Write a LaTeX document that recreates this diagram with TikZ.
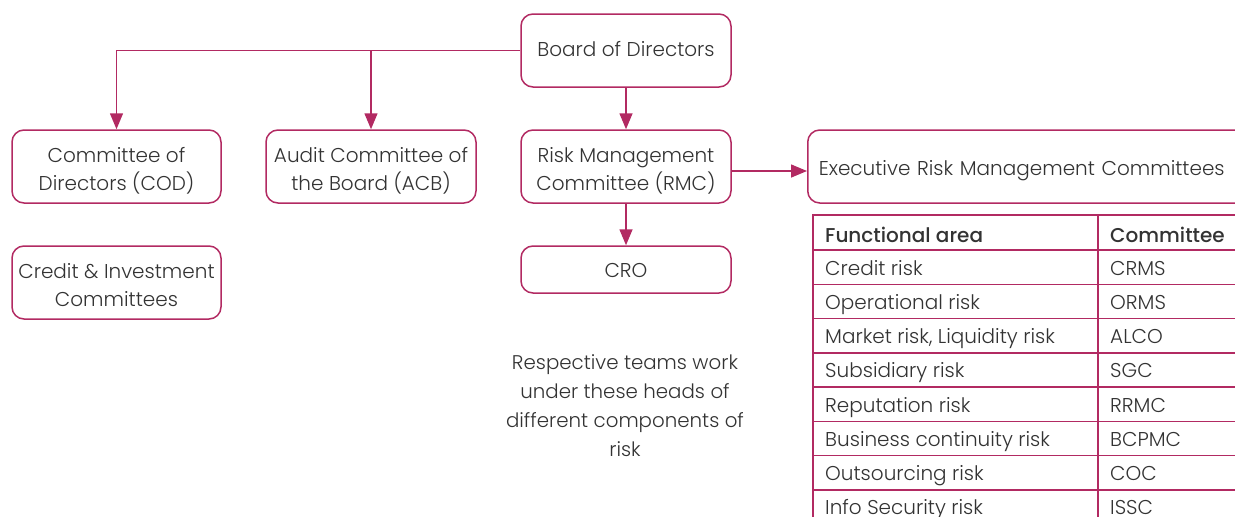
\documentclass[tikz,border=0pt]{standalone}
\usepackage{fontspec}
\setmainfont{Poppins Light}[BoldFont={Poppins Medium}]
\usetikzlibrary{arrows.meta}
\definecolor{mag}{HTML}{B22A62}
\definecolor{txt}{HTML}{333333}
\newcommand{\mainsz}{\fontsize{20}{28}\selectfont}
\begin{document}
\begin{tikzpicture}[x=1pt,y=-1pt,
  box/.style={draw=mag, line width=1.5pt, rounded corners=12pt, text=txt, align=center, font=\mainsz, inner sep=0pt},
  twoline/.style={text height=52pt, text depth=5pt},
  conn/.style={draw=mag, line width=1.5pt, -{Triangle[length=16pt,width=13pt]}},
  grid/.style={draw=mag, line width=1.5pt},
  cell/.style={anchor=base west, text=txt, font=\mainsz, inner sep=0pt},
  hcell/.style={cell, font=\mainsz\bfseries},
  note/.style={text=txt, font=\fontsize{19.8}{29}\selectfont, align=center, inner sep=0pt}]
\useasboundingbox (0,0) rectangle (1235,517);
% boxes
\node[box, minimum width=210pt, minimum height=73pt, text height=16pt, text depth=5pt] (bod) at (626,50.5) {Board of Directors};
\node[box, twoline, minimum width=209pt, minimum height=73pt] (cod) at (116.5,166.5) {Committee of\\Directors (COD)};
\node[box, twoline, minimum width=210pt, minimum height=73pt] (acb) at (371,166.5) {Audit Committee of\\the Board (ACB)};
\node[box, twoline, minimum width=210pt, minimum height=73pt] (rmc) at (626,166.5) {Risk Management\\Committee (RMC)};
\node[box, twoline, minimum width=209pt, minimum height=73pt] (cic) at (116.5,282.5) {Credit \& Investment\\Committees};
\node[box, minimum width=210pt, minimum height=47pt, text height=21.4pt, text depth=5pt] (cro) at (626,269.5) {CRO};
\node[box, anchor=west, minimum height=73pt, text height=22pt, text depth=5pt, text width=421pt, inner xsep=11pt, align=left] (ermc) at (807,166.5) {Executive Risk Management Committees};
% connectors
\draw[conn] (bod.west) -| (cod.north);
\draw[conn] (acb.north |- bod.west) -- (acb.north);
\draw[conn] (bod) -- (rmc);
\draw[conn] (rmc) -- (cro);
\draw[conn] ([yshift=-4.5pt]rmc.east) -- ([yshift=-4.5pt]rmc.east -| ermc.west);
% table
\draw[grid] (1250,215) -- (813,215) -- (813,530);
\draw[grid] (1098,215) -- (1098,530);
\foreach \y in {250,284.25,318.5,352.75,387,421.25,455.5,489.75}
  \draw[grid] (813,\y) -- (1250,\y);
\node[hcell] (h1) at (825,242) {Functional area};
\node[hcell] (h2) at (1110,242) {Committee};
\foreach \i/\a/\c in {0/Credit risk/CRMS,1/Operational risk/ORMS,2/{Market risk, Liquidity risk}/ALCO,3/Subsidiary risk/SGC,4/Reputation risk/RRMC,5/Business continuity risk/BCPMC,6/Outsourcing risk/COC,7/Info Security risk/ISSC}{
  \node[cell] (a\i) at (825,{275+34.25*\i}) {\a};
  \node[cell] (c\i) at (1110,{275+34.25*\i}) {\c};
}
% note
\node[note] (nt) at (625,406) {Respective teams work\\under these heads of\\different components of\\risk};
\end{tikzpicture}
\end{document}
